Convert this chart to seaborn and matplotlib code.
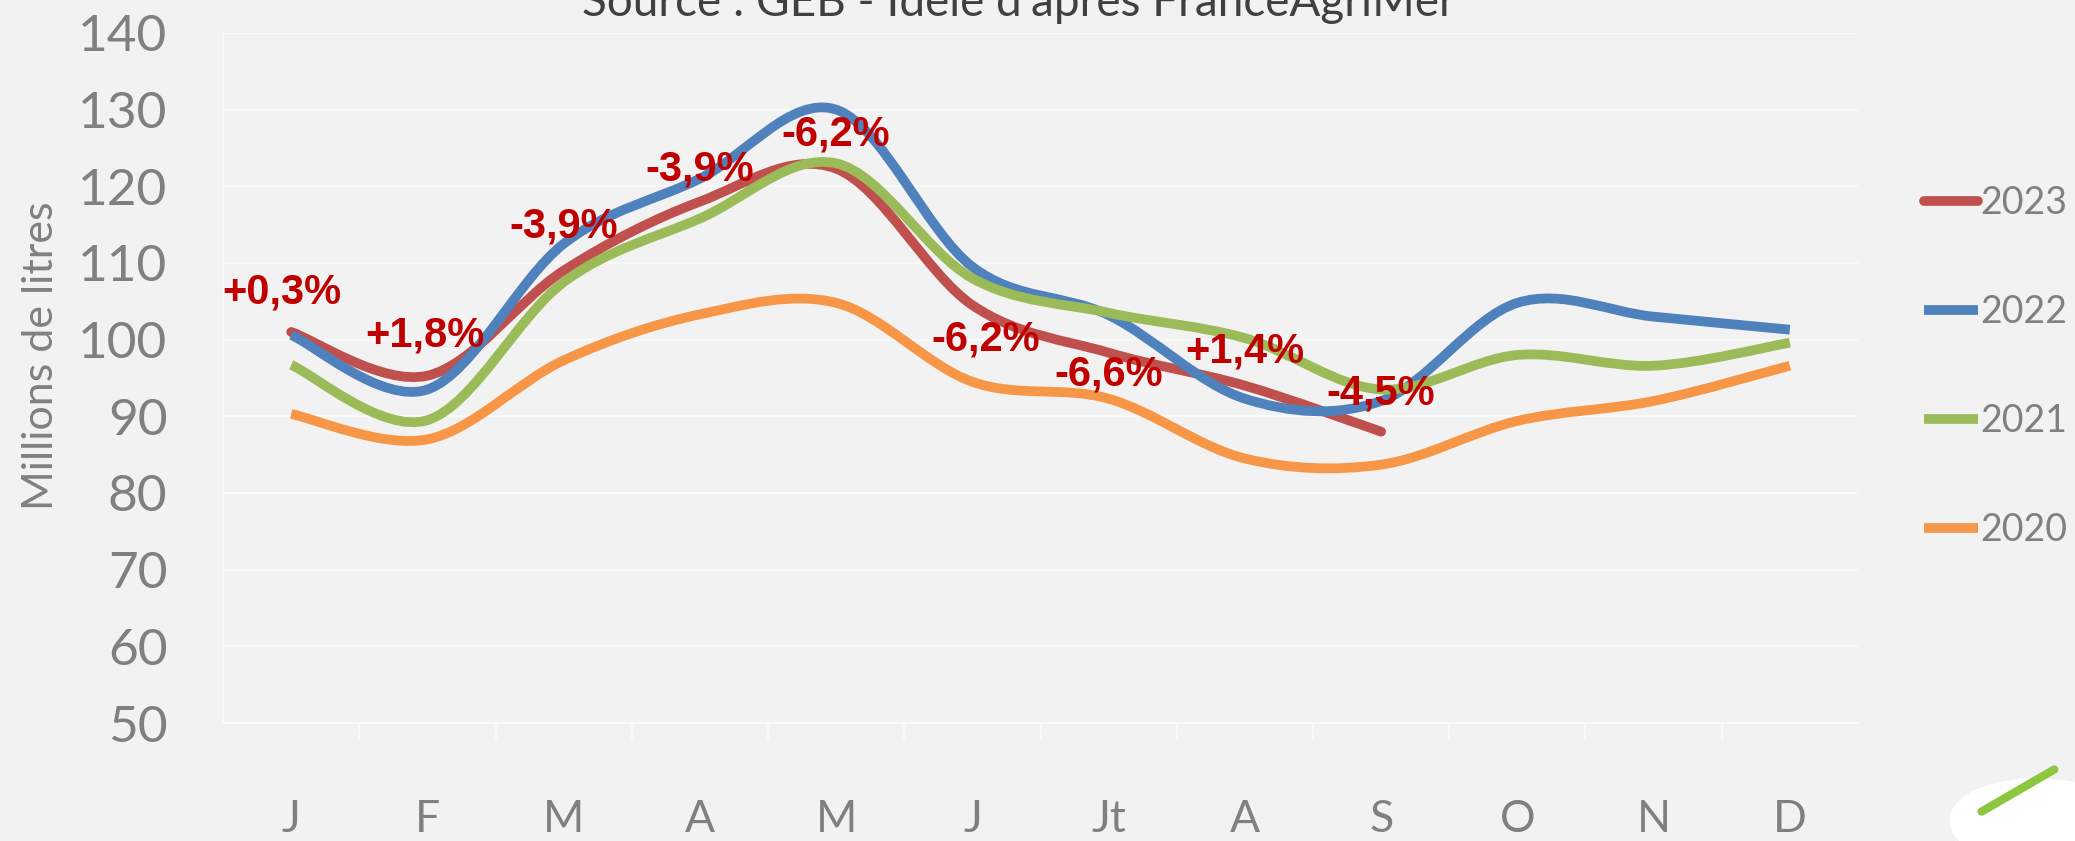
import numpy as np
import matplotlib
matplotlib.use("Agg")
import matplotlib.pyplot as plt
import seaborn as sns
from matplotlib.path import Path
from matplotlib.patches import PathPatch, Ellipse
from matplotlib.lines import Line2D

months = ["J", "F", "M", "A", "M", "J", "Jt", "A", "S", "O", "N", "D"]

v2023 = [101.0, 95.3, 109.0, 118.0, 122.3, 104.5, 98.3, 94.0, 88.0]
v2022 = [100.6, 93.5, 112.5, 121.0, 130.0, 109.5, 103.2, 92.3, 92.0, 104.8, 103.0, 101.3]
v2021 = [96.7, 89.5, 107.5, 115.8, 123.0, 108.0, 103.5, 100.2, 93.5, 98.0, 96.6, 99.6]
v2020 = [90.3, 87.0, 97.3, 103.3, 104.8, 94.5, 92.3, 84.5, 83.7, 89.4, 92.0, 96.6]

years = ["2023", "2022", "2021", "2020"]
colors = ["#C0504D", "#4F81BD", "#9BBB59", "#F79646"]

# evolution 2023 vs 2022, placed over each month
evolLabels = ["+0,3%", "+1,8%", "-3,9%", "-3,9%", "-6,2%", "-6,2%", "-6,6%", "+1,4%", "-4,5%"]
evolX = [-0.07, 0.98, 2.0, 3.0, 4.0, 5.1, 6.0, 7.0, 8.0]
evolY = [106.2, 100.5, 114.8, 122.2, 126.8, 100.0, 95.4, 98.5, 93.0]


def smoothPath(values):
    # Excel-like smoothed line: cubic Bezier through each point
    pts = np.column_stack([np.arange(len(values)), values]).astype(float)
    n = len(pts)
    verts = [pts[0]]
    codes = [Path.MOVETO]
    for i in range(n - 1):
        p0 = pts[max(i - 1, 0)]
        p1 = pts[i]
        p2 = pts[i + 1]
        p3 = pts[min(i + 2, n - 1)]
        verts += [p1 + (p2 - p0) / 6, p2 - (p3 - p1) / 6, p2]
        codes += [Path.CURVE4] * 3
    return Path(verts, codes)


sns.set_theme(style="whitegrid")
bg = "#F2F2F2"
grey = "#808080"
plt.rcParams["font.family"] = ["Lato", "DejaVu Sans"]

fig = plt.figure(figsize=(20.75, 8.41), dpi=100, facecolor=bg)
ax = fig.add_axes([0.1075, 0.1403, 0.7879, 0.8205], facecolor=bg)

allSeries = [v2023, v2022, v2021, v2020]
for z, (vals, col) in enumerate(zip(allSeries, colors)):
    cap = "round" if z == 0 else "butt"
    patch = PathPatch(smoothPath(vals), facecolor="none", edgecolor=col, lw=7,
                      capstyle=cap, joinstyle="round", zorder=3 + z)
    ax.add_patch(patch)

for lab, x, y in zip(evolLabels, evolX, evolY):
    ax.text(x, y, lab, color="#C00000", fontsize=30, fontweight="bold",
            ha="center", va="center", zorder=10,
            family=["Liberation Sans", "DejaVu Sans"])

ax.set_xlim(-0.5, 11.5)
ax.set_ylim(50, 140)
ax.set_yticks(np.arange(50, 141, 10))
ax.set_xticks(range(len(months)))
ax.set_xticklabels(months)
ax.set_xticks(np.arange(0.5, 11, 1), minor=True)
ax.grid(True, axis="y", color="#F9F9F9", lw=1.5)
ax.grid(False, axis="x")
for s in ["top", "right"]:
    ax.spines[s].set_visible(False)
ax.spines["left"].set_color("#F9F9F9")
ax.spines["bottom"].set_color("#F9F9F9")
ax.spines["left"].set_linewidth(1.5)
ax.spines["bottom"].set_linewidth(1.5)

ax.tick_params(axis="y", labelsize=37, labelcolor=grey, pad=40, length=0)
ax.tick_params(axis="x", which="major", labelsize=32, labelcolor=grey, pad=55, length=0)
ax.tick_params(axis="x", which="minor", bottom=True, length=12, color="#F9F9F9", width=1.5)

ax.set_ylabel("Millions de litres", fontsize=31, color=grey)
ax.yaxis.set_label_coords(-0.10, 0.532)

fig.text(0.491, 0.981, "Source : GEB - Idele d'après FranceAgriMer", fontsize=33,
         color="#404040", ha="center", va="baseline")

handles = [Line2D([0], [0], color=c, lw=7, solid_capstyle=("round" if i == 0 else "butt"))
           for i, c in enumerate(colors)]
leg = fig.legend(handles, years, loc="upper left", bbox_to_anchor=(0.927, 0.78),
                 frameon=False, fontsize=27, handlelength=1.45, handletextpad=0.05,
                 labelspacing=1.95, labelcolor=grey, borderaxespad=0, borderpad=0)

# logo placeholder, bottom right
fig.patches.append(Ellipse((0.985, 0.02), 0.09, 0.11, angle=12, transform=fig.transFigure,
                           facecolor="white", edgecolor="none"))
fig.lines.append(Line2D([0.955, 0.99], [0.035, 0.085], transform=fig.transFigure,
                        color="#8DC63F", lw=6))

fig.savefig("out.png", dpi=100, facecolor=bg)
